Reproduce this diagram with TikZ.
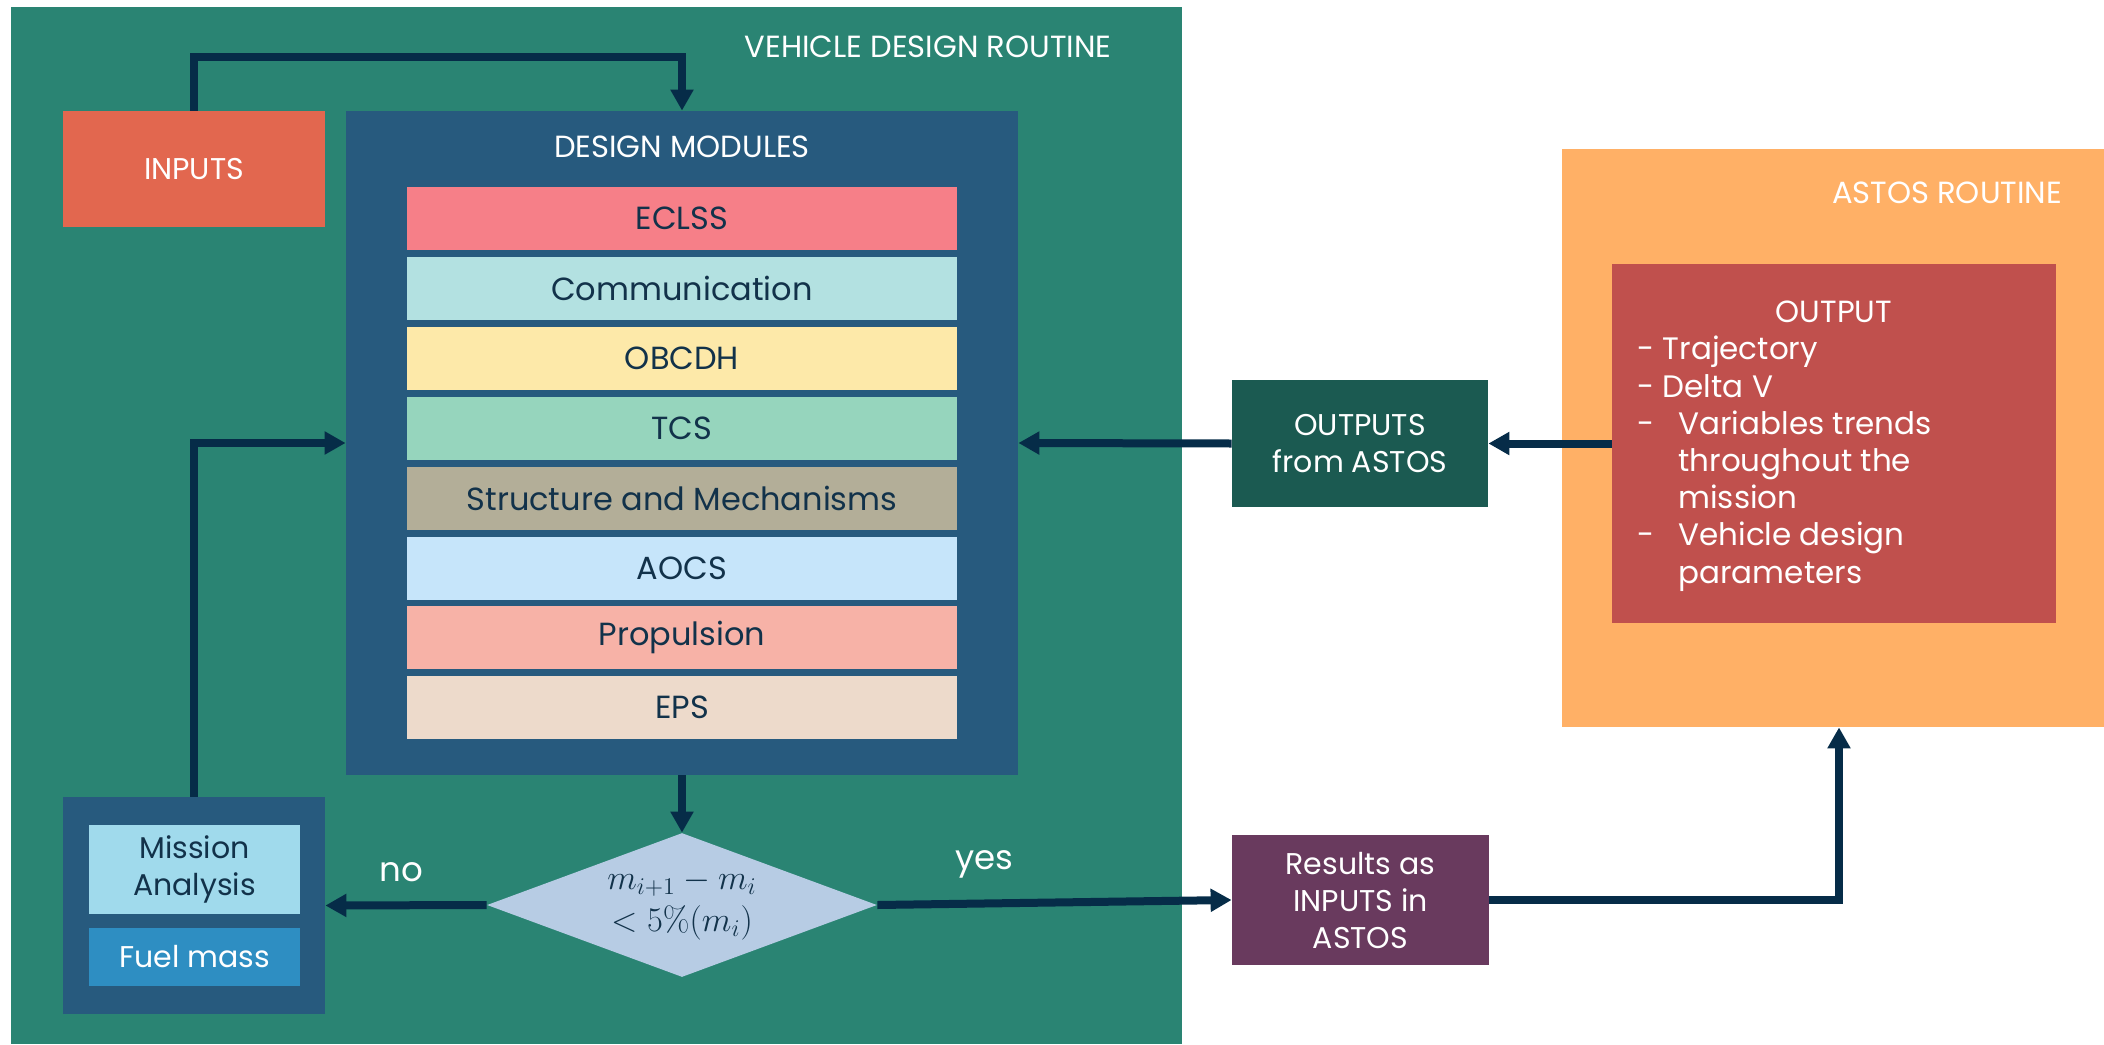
\documentclass[tikz,border=0pt]{standalone}
\usepackage{amsmath}
\usepackage[no-math]{fontspec}
\setmainfont{Poppins}
\usepackage{tikz}
\usetikzlibrary{arrows.meta,shapes.geometric}

\definecolor{routinegreen}{HTML}{2A8473}
\definecolor{astosorange}{HTML}{FFB066}
\definecolor{inputred}{HTML}{E2674F}
\definecolor{moduleblue}{HTML}{275A7E}
\definecolor{linknavy}{HTML}{062C48}
\definecolor{textnavy}{HTML}{12324A}
\definecolor{eclsscol}{HTML}{F67F88}
\definecolor{commcol}{HTML}{B3E1E1}
\definecolor{obcdhcol}{HTML}{FDE9A9}
\definecolor{tcscol}{HTML}{96D5BD}
\definecolor{structcol}{HTML}{B3AE98}
\definecolor{aocscol}{HTML}{C6E5FA}
\definecolor{propcol}{HTML}{F7B2A7}
\definecolor{epscol}{HTML}{EDDACB}
\definecolor{missioncol}{HTML}{A0DAEC}
\definecolor{fuelcol}{HTML}{2E8EC2}
\definecolor{checkcol}{HTML}{B7CCE4}
\definecolor{resultcol}{HTML}{693A5E}
\definecolor{outfromcol}{HTML}{1B5A51}
\definecolor{outputcol}{HTML}{C0504D}

\begin{document}
\begin{tikzpicture}[x=0.5pt,y=-0.5pt,
  blk/.style={inner sep=0pt,align=center,text=white,font=\fontsize{15}{18.5}\selectfont},
  bar/.style={blk,minimum width=275pt,minimum height=31.5pt,text=textnavy,font=\fontsize{16}{19}\selectfont},
  lbl/.style={inner sep=0pt,text=white,font=\fontsize{15.3}{18.5}\selectfont},
  link/.style={draw=linknavy,line width=4pt,-{Triangle[length=10.5pt,width=11pt]}}]
\useasboundingbox (0,0) rectangle (2104,1044);

% Shape: Rectangle
\node [blk,fill=routinegreen,minimum width=585.5pt,minimum height=518.5pt] (vdr) at (596.5,525.5) {};
% Shape: Rectangle
\node [blk,fill=astosorange,minimum width=271pt,minimum height=289pt] (astos) at (1833,438) {};
% Text Node
\node [lbl] (vdrtitle) at (928,47) {VEHICLE DESIGN ROUTINE};
% Text Node
\node [lbl] (astostitle) at (1947,193) {ASTOS ROUTINE};

% Shape: Rectangle
\node [blk,fill=inputred,minimum width=131pt,minimum height=58pt] (inputs) at (194,169) {INPUTS};
% Shape: Rectangle
\node [blk,fill=moduleblue,minimum width=336pt,minimum height=332pt] (design) at (682,443) {};
% Text Node
\node [lbl] (designtitle) at (682,147) {DESIGN MODULES};

% Modules
\node [bar,fill=eclsscol] (eclss) at (682,218) {ECLSS};
\node [bar,fill=commcol] (comm) at (682,288) {Communication};
\node [bar,fill=obcdhcol] (obcdh) at (682,358) {OBCDH};
\node [bar,fill=tcscol] (tcs) at (682,428) {TCS};
\node [bar,fill=structcol] (struct) at (682,498) {Structure and Mechanisms};
\node [bar,fill=aocscol] (aocs) at (682,568) {AOCS};
\node [bar,fill=propcol] (prop) at (682,637.5) {Propulsion};
\node [bar,fill=epscol] (eps) at (682,707) {EPS};

% Shape: Rectangle
\node [blk,fill=moduleblue,minimum width=131pt,minimum height=108.5pt] (mission) at (194,905.5) {};
\node [blk,fill=missioncol,text=textnavy,minimum width=105.5pt,minimum height=44.5pt] (analysis) at (194.5,869.5) {Mission\\Analysis};
\node [blk,fill=fuelcol,minimum width=105.5pt,minimum height=29pt] (fuel) at (194.5,957) {Fuel mass};

% Shape: Diamond
\node [blk,diamond,shape aspect=2.7,fill=checkcol,text=textnavy,minimum width=195pt,minimum height=72pt,font=\fontsize{18}{21}\selectfont] (check) at (682,905) {$m_{i+1}-m_i$\\$<5\%(m_i)$};

% Shape: Rectangle
\node [blk,fill=resultcol,minimum width=128.5pt,minimum height=65pt] (results) at (1360.5,900) {Results as\\INPUTS in\\ASTOS};
% Shape: Rectangle
\node [blk,fill=outfromcol,minimum width=128pt,minimum height=63.5pt] (outfrom) at (1360,443.5) {OUTPUTS\\from ASTOS};
% Shape: Rectangle
\node [blk,fill=outputcol,minimum width=222pt,minimum height=179.5pt] (output) at (1834,443.5) {};
% Text Node
\node [lbl] (outtitle) at (1834,312) {OUTPUT};
% Text Node
\node [lbl,anchor=north west,align=left,font=\fontsize{15.5}{18.6}\selectfont] (outlist) at (1637,336) {- Trajectory\\- Delta V\\\makebox[20.5pt][l]{-}Variables trends\\\hspace*{20.5pt}throughout the\\\hspace*{20.5pt}mission\\\makebox[20.5pt][l]{-}Vehicle design\\\hspace*{20.5pt}parameters};

% Text Node
\node [lbl,font=\fontsize{17}{20}\selectfont] (nolbl) at (401,872) {no};
% Text Node
\node [lbl,font=\fontsize{17}{20}\selectfont] (yeslbl) at (984,864) {yes};

\coordinate (inbend) at (682,57);

% Connection
\draw [link] (inputs.north) |- (inbend) -- (design.north);
% Connection
\draw [link] (design.south) -- (check.north);
% Connection
\draw [link] (check.west) -- (mission.east);
% Connection
\draw [link] (check.east) -- (results.west);
% Connection
\draw [link] (results.east) -| ([xshift=3pt]astos.south);
% Connection
\draw [link] (output.west) -- (outfrom.east);
% Connection
\draw [link] (outfrom.west) -- (design.east);
% Connection
\draw [link] (mission.north) |- (design.west);

\end{tikzpicture}
\end{document}
